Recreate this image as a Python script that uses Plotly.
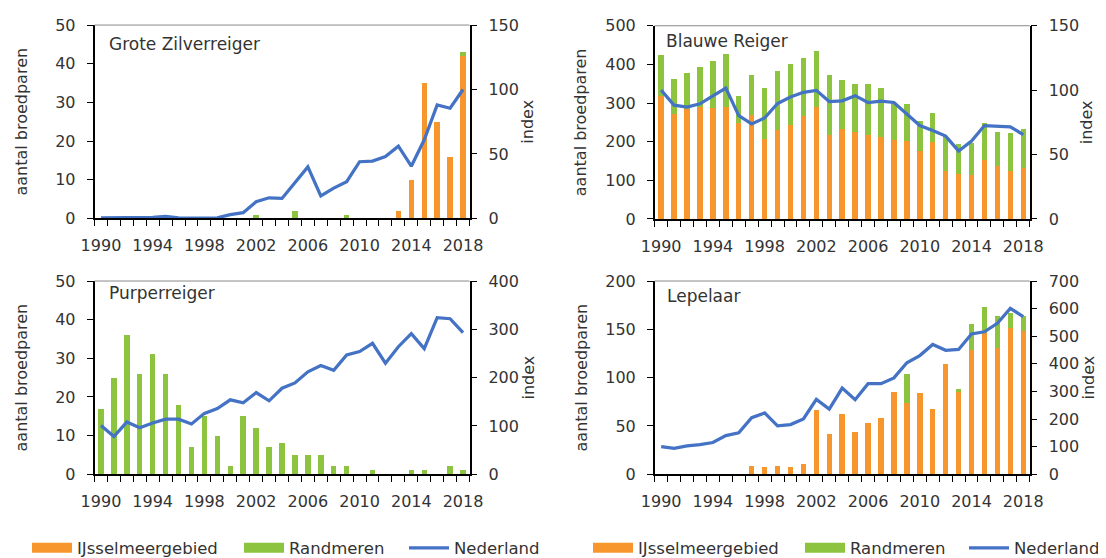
import plotly.graph_objects as go

W, H = 1106, 558
years = list(range(1990, 2019))
tick_years = [1990, 1994, 1998, 2002, 2006, 2010, 2014, 2018]

# Grote Zilverreiger
zilver_ijssel = [0, 0, 0, 0, 0, 0, 0, 0, 0, 0, 0, 0, 0, 0, 0, 0, 0, 0, 0, 0, 0, 0, 0, 2, 10, 35, 25, 16, 42]
zilver_rand = [0, 0, 0, 0, 0, 0, 0, 0, 0, 0, 0, 0, 1, 0, 0, 2, 0, 0, 0, 1, 0, 0, 0, 0, 0, 0, 0, 0, 1]
zilver_index = [0.5, 0.5, 1, 1, 0.8, 1.5, 0.5, 0.3, 0.3, 0.5, 3, 4.5, 13, 16, 15.5, 28, 40, 17.5, 23.5, 28.5,
                44, 44.5, 48, 56, 40.5, 61, 88, 85.5, 100]

# Blauwe Reiger
blauw_ijssel = [319, 272, 285, 289, 288, 289, 248, 269, 208, 231, 244, 266, 289, 216, 233, 226, 217, 212, 203, 201,
                175, 199, 124, 117, 113, 153, 138, 124, 132]
blauw_rand = [106, 89, 93, 104, 120, 137, 70, 103, 132, 153, 158, 150, 145, 157, 127, 123, 132, 128, 97, 97,
              78, 74, 91, 76, 84, 95, 87, 98, 102]
blauw_index = [100, 88.3, 86.8, 89.4, 95.5, 101.6, 80.2, 73.8, 78.4, 89.6, 94.7, 98.3, 99.8, 91.1, 91.7, 95.7,
               90.4, 91.4, 90.4, 81.7, 72.5, 68.7, 64.3, 52.8, 60.5, 72.5, 72, 71.5, 65.5]

# Purperreiger
purper_ijssel = [0] * 29
purper_rand = [17, 25, 36, 26, 31, 26, 18, 7, 15, 10, 2, 15, 12, 7, 8, 5, 5, 5, 2, 2, 0, 1, 0, 0, 1, 1, 0, 2, 1]
purper_index = [101, 78, 108, 96, 106, 114, 114, 104, 126, 136, 154, 148, 169, 152, 178, 189, 212, 225, 215, 247,
                254, 271, 230, 264, 291, 260, 324, 322, 293]

# Lepelaar
lepel_ijssel = [0, 0, 0, 0, 0, 0, 0, 9, 7, 8, 7, 11, 66, 42, 62, 44, 53, 58, 85, 74, 84, 67, 114, 86, 129, 146,
                131, 151, 148]
lepel_rand = [0, 0, 0, 0, 0, 0, 0, 0, 0, 0, 0, 0, 0, 0, 0, 0, 0, 0, 0, 30, 0, 0, 0, 2, 26, 27, 33, 16, 16]
lepel_index = [100, 94, 103, 107, 115, 140, 150, 205, 222, 175, 180, 200, 271, 236, 312, 270, 328, 328, 349, 404,
               430, 470, 449, 452, 508, 516, 547, 601, 571]

series_names = ["IJsselmeergebied", "Randmeren", "Nederland"]
ORANGE = "#F7962C"
GREEN = "#8CC43F"
BLUE = "#4472C4"
TXT = "#333333"
FONT = "DejaVu Sans"

panels = [
    dict(title="Grote Zilverreiger", ijs=zilver_ijssel, rand=zilver_rand, idx=zilver_index,
         xpx=(86.5, 461.5), ypx=(17.3, 213.5), lmax=50, ldt=10, rmax=150, rdt=50,
         tpos=(99, 36.5), lstand=24, rstand=4),
    dict(title="Blauwe Reiger", ijs=blauw_ijssel, rand=blauw_rand, idx=blauw_index,
         xpx=(646.7, 1021.7), ypx=(18.0, 214.0), lmax=500, ldt=100, rmax=150, rdt=50,
         tpos=(656, 33.5), lstand=15, rstand=3),
    dict(title="Purperreiger", ijs=purper_ijssel, rand=purper_rand, idx=purper_index,
         xpx=(86.5, 461.5), ypx=(277.0, 473.0), lmax=50, ldt=10, rmax=400, rdt=100,
         tpos=(99, 289), lstand=24, rstand=4),
    dict(title="Lepelaar", ijs=lepel_ijssel, rand=lepel_rand, idx=lepel_index,
         xpx=(646.7, 1021.7), ypx=(277.0, 473.0), lmax=200, ldt=50, rmax=700, rdt=100,
         tpos=(657, 292), lstand=14, rstand=4),
]

fig = go.Figure()
layout = dict(
    width=W, height=H, margin=dict(l=0, r=0, t=0, b=0),
    template="none", paper_bgcolor="white", plot_bgcolor="white",
    barmode="stack", font=dict(family=FONT, size=16, color=TXT),
    annotations=[], shapes=[],
)

for i, p in enumerate(panels, 1):
    xn = "x" if i == 1 else f"x{i}"
    yn = "y" if i == 1 else f"y{i}"
    y2n = f"y{i + 4}"
    fig.add_trace(go.Bar(x=years, y=p["ijs"], xaxis=xn, yaxis=yn, marker=dict(color=ORANGE, line=dict(width=0)),
                         width=0.42, name=series_names[0], showlegend=False, legendgroup="ijs"))
    fig.add_trace(go.Bar(x=years, y=p["rand"], xaxis=xn, yaxis=yn, marker=dict(color=GREEN, line=dict(width=0)),
                         width=0.42, name=series_names[1], showlegend=False, legendgroup="rand"))
    fig.add_trace(go.Scatter(x=years, y=p["idx"], xaxis=xn, yaxis=y2n, mode="lines",
                             line=dict(color=BLUE, width=3.25), name=series_names[2],
                             showlegend=False, legendgroup="ned"))

    xd = [p["xpx"][0] / W, p["xpx"][1] / W]
    yd = [1 - p["ypx"][1] / H, 1 - p["ypx"][0] / H]
    layout["xaxis" if i == 1 else f"xaxis{i}"] = dict(
        domain=xd, anchor=yn, range=[1989.5, 2018.5], tickmode="array", tickvals=tick_years,
        ticks="outside", ticklen=6, tickcolor="rgba(0,0,0,0)", ticklabelstandoff=6,
        showline=True, linecolor="#000", linewidth=1.5, showgrid=False, zeroline=False,
        tickfont=dict(size=16, color=TXT),
        minor=dict(tickmode="array", tickvals=[1989.5 + k for k in range(30)], ticks="outside",
                   ticklen=6, tickcolor="#000", tickwidth=1.2, showgrid=False),
    )
    layout["yaxis" if i == 1 else f"yaxis{i}"] = dict(
        domain=yd, anchor=xn, range=[0, p["lmax"]], tick0=0, dtick=p["ldt"],
        ticks="outside", ticklen=6, tickcolor="#000", tickwidth=1.2, ticklabelstandoff=8,
        showline=True, linecolor="#000", linewidth=1.5, showgrid=False, zeroline=False,
        tickfont=dict(size=16, color=TXT),
        title=dict(text="aantal broedparen", font=dict(size=16, color=TXT), standoff=p["lstand"]),
    )
    layout[f"yaxis{i + 4}"] = dict(
        overlaying=yn, side="right", anchor=xn, range=[0, p["rmax"]], tick0=0, dtick=p["rdt"],
        ticks="outside", ticklen=6, tickcolor="#000", tickwidth=1.2, ticklabelstandoff=8,
        showline=True, linecolor="#000", linewidth=1.5, showgrid=False, zeroline=False,
        tickfont=dict(size=16, color=TXT),
        title=dict(text="index", font=dict(size=16, color=TXT), standoff=p["rstand"]),
    )
    layout["shapes"].append(dict(type="line", xref=f"{xn} domain", yref=f"{yn} domain",
                                 x0=0, x1=1, y0=1, y1=1, line=dict(color="#8a8a8a", width=1)))
    layout["annotations"].append(dict(text=p["title"], xref="paper", yref="paper",
                                      x=p["tpos"][0] / W, y=1 - p["tpos"][1] / H,
                                      xanchor="left", yanchor="middle", showarrow=False,
                                      font=dict(size=17, color=TXT)))

# legends (two identical rows of three entries)
legend_x = [19, 231, 396, 580, 792, 956]
legend_styles = [(ORANGE, 11), (GREEN, 11), (BLUE, 3.25)]
for k, lx in enumerate(legend_x):
    key = "legend" if k == 0 else f"legend{k + 1}"
    color, lw = legend_styles[k % 3]
    fig.add_trace(go.Scatter(x=[None], y=[None], mode="lines", line=dict(color=color, width=lw),
                             name=series_names[k % 3], legend=key, showlegend=True,
                             legendgroup=["ijs", "rand", "ned"][k % 3]))
    layout[key] = dict(x=lx / W, y=1 - 548 / H, xanchor="left", yanchor="middle",
                       bgcolor="rgba(0,0,0,0)", borderwidth=0, itemwidth=40,
                       font=dict(size=16.5, color=TXT, family=FONT), orientation="h")

fig.update_layout(**layout)
fig.write_html("out.html")
